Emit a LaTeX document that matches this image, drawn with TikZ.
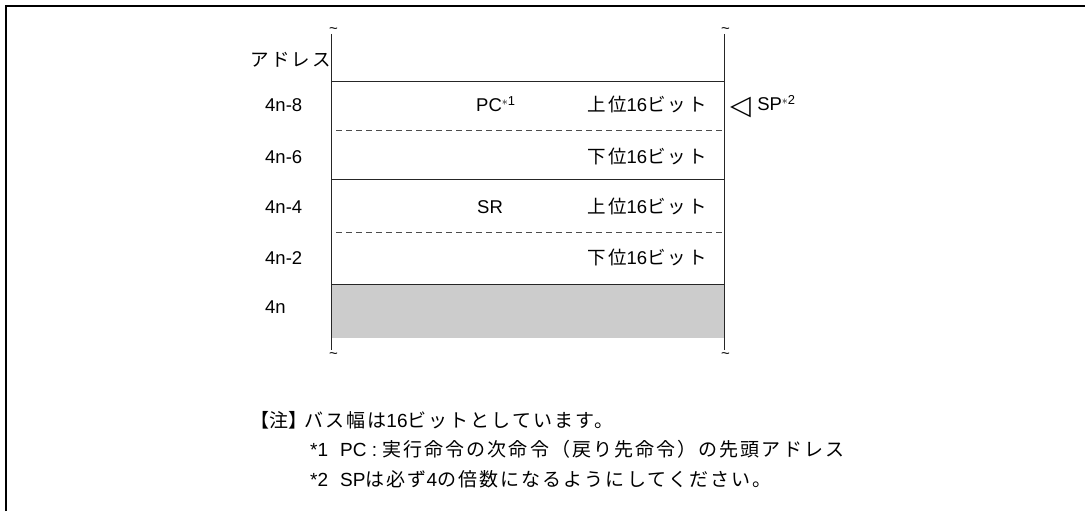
\documentclass[tikz,border=0pt]{standalone}
\usepackage{fontspec}
\setmainfont{Liberation Sans}
\newfontfamily\jp[LetterSpace=11]{Noto Sans CJK JP}
\newfontfamily\jpb{Noto Sans CJK JP}
\newfontfamily\sym{DejaVu Sans}
\usetikzlibrary{positioning}

\begin{document}
\begin{tikzpicture}[
    x=1pt, y=-1pt,
    every node/.style={inner sep=0pt, text height=13.2pt, text depth=0pt, font=\fontsize{18.5}{22}\selectfont},
    addr/.style={anchor=west},
    bits/.style={anchor=east},
    cell/.style={line width=0.8pt, draw=black!85},
    half/.style={line width=0.8pt, draw=black!70, dash pattern=on 6pt off 4pt},
    brk/.style={anchor=west, text height=, text depth=, font=\fontsize{15}{15}\selectfont},
    note/.style={anchor=west, text height=13.5pt, font=\fontsize{19}{24}\selectfont}
]
\useasboundingbox (0,0) rectangle (1086,511);

% Frame
\draw[line width=2.2pt] (6,511) -- (6,6) -- (1085,6);

% Stack area
\coordinate (lt) at (331,34);
\coordinate (lb) at (331,350);
\coordinate (rt) at (724,34);
\coordinate (rb) at (724,350);
\fill[black!20] (331,284) rectangle (724,338);
\draw[cell] (lt) -- (lb);
\draw[cell] (rt) -- (rb);
\node[brk] (lttil) at (329,31) {\textasciitilde};
\node[brk] (rttil) at (721,31) {\textasciitilde};
\node[brk] (lbtil) at (329,356) {\textasciitilde};
\node[brk] (rbtil) at (721,356) {\textasciitilde};

% Row borders
\draw[cell] (331,81) -- (724,81);
\draw[half] (336,130) -- (724,130);
\draw[cell] (331,179) -- (724,179);
\draw[half] (336,232) -- (724,232);
\draw[cell] (331,284) -- (724,284);

% Addresses
\node[anchor=east] (adr) at (331,60) {\jp アドレス};
\foreach \lab/\yy [count=\i] in {4n-8/105, 4n-6/157, 4n-4/207, 4n-2/258, 4n/307}
    \node[addr] (addr\i) at (265,\yy) {\lab};

% Contents
\node[anchor=west] (pc) at (476,105) {PC\textsuperscript{$\ast$1}};
\node[anchor=west] (sr) at (477,207) {SR};
\node[bits] (pch) at (707,105) {{\jp 上位}16{\jp ビット}};
\node[bits] (pcl) at (707,157) {{\jp 下位}16{\jp ビット}};
\node[bits] (srh) at (707,207) {{\jp 上位}16{\jp ビット}};
\node[bits] (srl) at (707,258) {{\jp 下位}16{\jp ビット}};

% Stack pointer
\node[text height=, text depth=, font=\fontsize{27}{27}\selectfont\sym] (tri) at (740.5,107) {◁};
\node[right=6pt of tri.east, yshift=3pt] (sp) {SP\textsuperscript{$\ast$2}};

% Notes
\node[note] (note0) at (250,421) {{\jpb 【注】}\kern-3pt{\jp バス幅は}16{\jp ビットとしています。}};
\node[note] (note1) at (310,450) {*1\hspace{12pt}PC : {\jp 実行命令の次命令（戻り先命令）の先頭アドレス}};
\node[note] (note2) at (310,480) {*2\hspace{12pt}SP{\jp は必ず}4{\jp の倍数になるようにしてください。}};

\end{tikzpicture}
\end{document}
